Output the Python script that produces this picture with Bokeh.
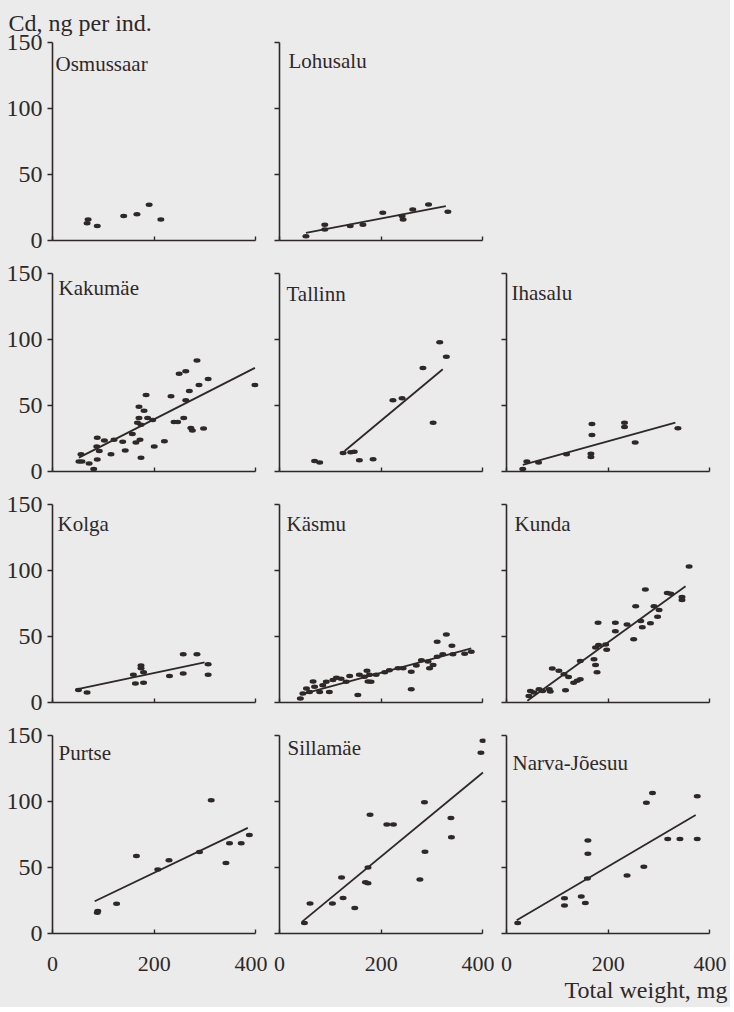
from bokeh.plotting import figure
from bokeh.layouts import gridplot
from bokeh.models import Range1d, FixedTicker, Label
from bokeh.embed import file_html
from bokeh.resources import INLINE

# ---------------- data (total weight, mg ; Cd, ng per individual) ----------------
x_ticks = [0, 200, 400]
y_ticks = [0, 50, 100, 150]

osmussaar_w = [68, 70, 88, 140, 166, 190, 213]
osmussaar_cd = [13, 16, 11, 18.6, 19.8, 27, 16]

lohusalu_w = [52, 89, 89, 139, 164, 203, 241, 243, 262, 293, 331]
lohusalu_cd = [3.3, 12, 8.3, 11, 12, 21, 18.5, 16, 23.5, 27.3, 21.8]
lohusalu_fit_w = [52, 327]
lohusalu_fit_cd = [5.8, 26]

kakumae_w = [56, 52, 58, 72, 81, 88, 102, 87, 92, 88, 115, 121, 138, 143, 157, 164,
             172, 170, 180, 167, 170, 174, 184, 187, 197, 174, 200, 220, 233, 239, 246,
             249, 262, 258, 262, 269, 272, 275, 284, 288, 297, 306, 398]
kakumae_cd = [13, 7.5, 7.5, 6, 1.8, 25.5, 23.5, 19, 15.5, 9, 13, 24, 22.5, 16, 28.5, 22,
              24, 49, 46, 37, 40.5, 35.5, 58, 40.5, 39, 10.5, 19, 23, 57, 37.5, 37.5,
              74, 76, 40.5, 54, 61, 33, 31, 84, 65.5, 32.5, 70, 65.5]
kakumae_fit_w = [52, 398]
kakumae_fit_cd = [10.5, 78.5]

tallinn_w = [69, 79, 125, 140, 147, 157, 184, 223, 241, 282, 302, 315, 328]
tallinn_cd = [8, 6.8, 14, 14.5, 15, 8.5, 9.3, 54, 55.5, 78.5, 37, 98, 87]
tallinn_fit_w = [128, 321]
tallinn_fit_cd = [15.5, 77.5]

ihasalu_w = [32, 40, 63, 118, 168, 168, 166, 166, 232, 232, 253, 337]
ihasalu_cd = [1.8, 7.5, 6.8, 13, 36, 27.6, 13.5, 11, 37, 33.7, 21.9, 32.7]
ihasalu_fit_w = [32, 332]
ihasalu_fit_cd = [5, 37]

kolga_w = [51, 68, 159, 163, 179, 174, 174, 179, 230, 257, 257, 284, 306, 306]
kolga_cd = [9.4, 7.6, 21, 14.4, 15, 28, 26, 23, 20, 22, 36.5, 36.5, 29, 21]
kolga_fit_w = [47, 299]
kolga_fit_cd = [10, 30.4]

kasmu_w = [41, 46, 53, 59, 66, 69, 79, 85, 92, 98, 105, 112, 121, 131, 138, 154, 157,
           167, 172, 174, 177, 180, 190, 207, 216, 233, 243, 259, 259, 269, 279, 295,
           302, 292, 310, 310, 321, 328, 339, 341, 364, 377]
kasmu_cd = [3, 6.8, 10.6, 8, 16, 12, 8, 13, 15.7, 8, 17, 18.7, 18, 15.7, 20, 5.6, 21,
            19.5, 24, 16, 21, 15.7, 21, 23, 24.5, 26, 26, 23.3, 10, 28, 32, 26,
            28.4, 31, 46, 34.7, 36.5, 51.6, 43, 36.5, 37, 38.5]
kasmu_fit_w = [41, 377]
kasmu_fit_cd = [6, 41]

kunda_w = [44, 47, 54, 64, 71, 84, 86, 90, 103, 113, 116, 122, 132, 139, 145, 145,
           172, 175, 178, 175, 181, 195, 197, 180, 214, 214, 237, 250, 254, 264, 267,
           273, 283, 290, 297, 300, 316, 323, 345, 345, 359]
kunda_cd = [5, 8.8, 7.6, 10, 8.8, 10, 8.3, 25.7, 24, 21.4, 9.3, 19.4, 15, 16.4, 17.6,
            31.5, 32.8, 28.5, 23, 41.6, 43.6, 44, 40, 60.5, 60.5, 54, 59, 48, 73,
            61.7, 57, 85.7, 60, 73, 65, 70, 83, 82.4, 80, 77.6, 103]
kunda_fit_w = [41, 352]
kunda_fit_cd = [1.3, 88]

purtse_w = [89, 88, 126, 165, 207, 229, 289, 312, 341, 348, 371, 387]
purtse_cd = [17, 15.7, 22.6, 58.7, 48.5, 55.5, 61.7, 101, 53.5, 68.4, 68.4, 74.6]
purtse_fit_w = [83, 384]
purtse_fit_cd = [24.4, 80]

sillamae_w = [49, 60, 104, 122, 125, 148, 169, 174, 174, 178, 211, 224, 276, 285,
              286, 337, 338, 396, 400]
sillamae_cd = [8, 22.8, 22.8, 42.5, 26.8, 19.3, 38.8, 38, 50, 90, 82.5, 82.5, 41,
               99.5, 62, 87.5, 73, 137, 146]
sillamae_fit_w = [44, 400]
sillamae_fit_cd = [8.8, 122]

narva_w = [22, 114, 114, 147, 155, 159, 160, 160, 237, 270, 275, 287, 317, 341, 375, 375]
narva_cd = [8, 26.7, 21.2, 28, 23.2, 41.6, 60.5, 70.5, 44, 50.6, 99, 106.4, 71.5, 71.5,
            104, 71.5]
narva_fit_w = [20, 372]
narva_fit_cd = [10, 89.7]

# ---------------- styling ----------------
INK = "#2e2828"
PAPER = "#ebebeb"
FONT = "Liberation Serif"

panels = [
    # name, w, cd, fit_w, fit_cd, col, row, title dx, title dy
    ("Osmussaar", osmussaar_w, osmussaar_cd, None, None, 0, 0, 3, 21),
    ("Lohusalu", lohusalu_w, lohusalu_cd, lohusalu_fit_w, lohusalu_fit_cd, 1, 0, 9, 18),
    ("Kakumäe", kakumae_w, kakumae_cd, kakumae_fit_w, kakumae_fit_cd, 0, 1, 6, 14),
    ("Tallinn", tallinn_w, tallinn_cd, tallinn_fit_w, tallinn_fit_cd, 1, 1, 7, 20),
    ("Ihasalu", ihasalu_w, ihasalu_cd, ihasalu_fit_w, ihasalu_fit_cd, 2, 1, 5, 19),
    ("Kolga", kolga_w, kolga_cd, kolga_fit_w, kolga_fit_cd, 0, 2, 5, 19),
    ("Käsmu", kasmu_w, kasmu_cd, kasmu_fit_w, kasmu_fit_cd, 1, 2, 7, 19),
    ("Kunda", kunda_w, kunda_cd, kunda_fit_w, kunda_fit_cd, 2, 2, 8, 19),
    ("Purtse", purtse_w, purtse_cd, purtse_fit_w, purtse_fit_cd, 0, 3, 6, 17),
    ("Sillamäe", sillamae_w, sillamae_cd, sillamae_fit_w, sillamae_fit_cd, 1, 3, 8, 12),
    ("Narva-Jõesuu", narva_w, narva_cd, narva_fit_w, narva_fit_cd, 2, 3, 6, 27),
]


def borders(col, row):
    return dict(
        min_border_left=52 if col == 0 else 12,
        min_border_right=18 if col == 2 else 9,
        min_border_top=42 if row == 0 else 17,
        min_border_bottom=74 if row == 3 else 16,
    )


def base_figure(col, row):
    p = figure(frame_width=206, frame_height=198,
               x_range=Range1d(0, 405), y_range=Range1d(0, 150),
               output_backend="svg", toolbar_location=None,
               background_fill_color=PAPER, border_fill_color=PAPER,
               outline_line_color=None, styles={"background-color": PAPER},
               **borders(col, row))
    p.grid.visible = False
    return p


def style_axis(ax, ticks, labelled, tick_in, tick_out, size, standoff):
    ax.axis_line_color = INK
    ax.axis_line_width = 1.6
    ax.major_label_text_font = FONT
    ax.major_label_text_color = INK
    if labelled:
        ax.ticker = FixedTicker(ticks=ticks)
        ax.major_tick_line_color = INK
        ax.major_tick_line_width = 1.4
        ax.major_tick_in = tick_in
        ax.major_tick_out = tick_out
        ax.minor_tick_line_color = None
        ax.major_label_text_font_size = size
        ax.major_label_standoff = standoff
    else:
        # unlabelled panels: ticks only, drawn as "minor" ticks so no label text exists
        ax.ticker = FixedTicker(ticks=[], minor_ticks=ticks)
        ax.major_tick_line_color = None
        ax.minor_tick_line_color = INK
        ax.minor_tick_line_width = 1.4
        ax.minor_tick_in = tick_in
        ax.minor_tick_out = tick_out
        ax.major_label_standoff = 0


def make_panel(name, w, cd, fit_w, fit_cd, col, row, tdx, tdy):
    p = base_figure(col, row)
    xa = p.xaxis[0]
    xa.bounds = (0, 400)
    style_axis(xa, x_ticks, row == 3, 4, 0, "22px", 23)
    ya = p.yaxis[0]
    style_axis(ya, y_ticks, col == 0, 0, 5, "24px", 5)

    if fit_w is not None:
        p.line(fit_w, fit_cd, line_color=INK, line_width=1.8)
    p.ellipse(x=w, y=cd, width=7, height=4.5, width_units="screen", height_units="screen",
              fill_color=INK, line_color=None)

    p.add_layout(Label(x=0, y=150, x_offset=tdx, y_offset=-tdy, text=name,
                       text_baseline="middle", text_align="left", text_font=FONT,
                       text_font_size="21px", text_color=INK))
    return p


figs = {}
for spec in panels:
    figs[(spec[6], spec[5])] = make_panel(*spec)

# blank cell (top right)
blank = base_figure(2, 0)
blank.xaxis.visible = False
blank.yaxis.visible = False
figs[(0, 2)] = blank

# y quantity, written above the first panel
top = figs[(0, 0)]
top.title.text = "Cd, ng per ind."
top.title.align = "left"
top.title.offset = -44
top.title.standoff = 14
top.title.text_font = FONT
top.title.text_font_size = "24px"
top.title.text_font_style = "normal"
top.title.text_color = INK

# x quantity, written under the last panel
last = figs[(3, 2)]
last.title_location = "below"
last.title.text = "Total weight, mg"
last.title.align = "right"
last.title.offset = -15
last.title.standoff = 2
last.title.text_font = FONT
last.title.text_font_size = "24px"
last.title.text_font_style = "normal"
last.title.text_color = INK

grid = [[figs[(r, c)] for c in range(3)] for r in range(4)]
p = gridplot(grid, toolbar_location=None)
p.styles = {"background-color": PAPER}

open("out.html", "w").write(file_html(p, INLINE))
